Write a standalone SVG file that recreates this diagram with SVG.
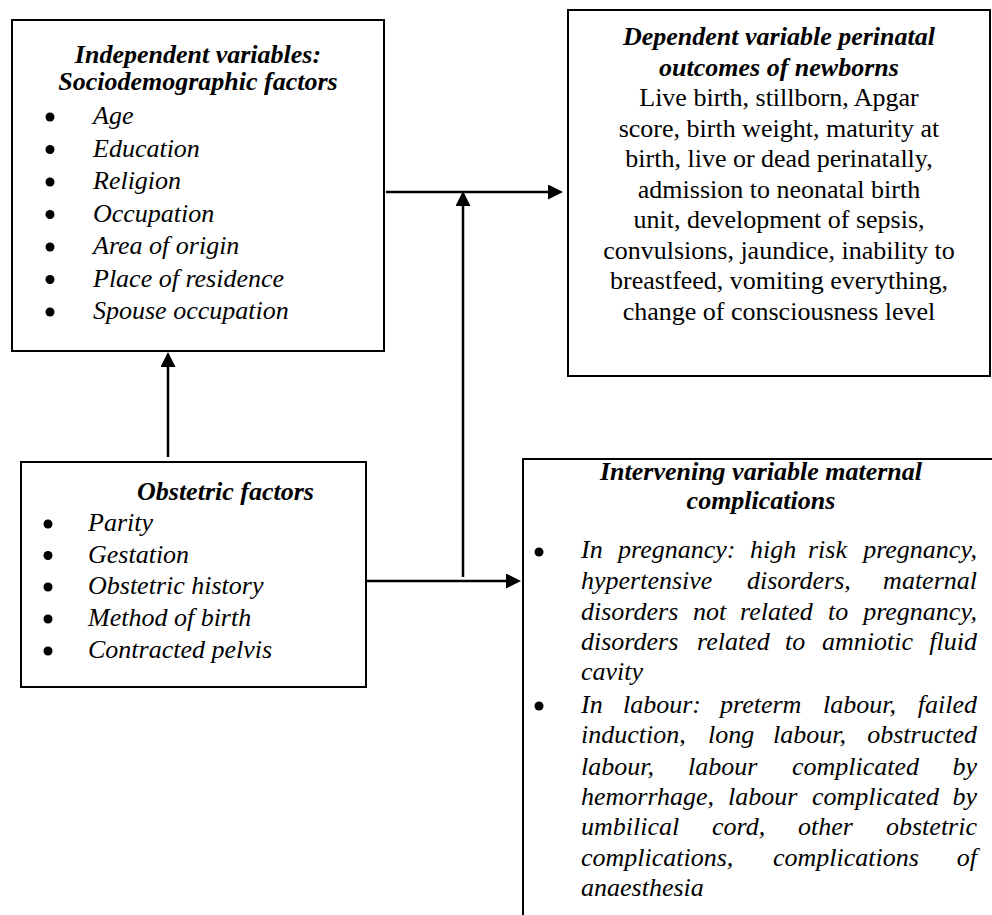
<svg xmlns="http://www.w3.org/2000/svg" width="992" height="915" viewBox="0 0 992 915" font-family="Liberation Serif" font-size="26">
<style>
  .box { fill: #ffffff; stroke: #000000; stroke-width: 2; }
  .conn { stroke: #000000; stroke-width: 2.5; fill: none; }
  svg g text, svg g tspan { font-family: "Liberation Serif", serif !important; font-size: 26px !important; fill: #000000; }
  .title { font-weight: bold; font-style: italic; }
  .it { font-style: italic; }
  .mid { text-anchor: middle; }
  .end { text-anchor: end; }
  .dot { fill: #000000; }
</style>
<defs>
  <marker id="arrow" markerUnits="userSpaceOnUse" markerWidth="16" markerHeight="16" refX="10" refY="7.5" orient="auto">
    <path d="M0,0 L15,7.5 L0,15 Z" fill="#000000"/>
  </marker>
</defs>
<rect x="0" y="0" width="992" height="915" fill="#ffffff"/>

<g id="connectors">
  <line class="conn" x1="386" y1="192" x2="558" y2="192" marker-end="url(#arrow)"/>
  <line class="conn" x1="463" y1="577" x2="463" y2="196" marker-end="url(#arrow)"/>
  <line class="conn" x1="366" y1="581" x2="516" y2="581" marker-end="url(#arrow)"/>
  <line class="conn" x1="168" y1="457" x2="168" y2="357" marker-end="url(#arrow)"/>
</g>

<g id="independent">
  <rect class="box" x="12" y="20" width="372" height="331"/>
  <text class="title mid" x="198" y="63" style="font-family:'Liberation Serif'">Independent variables:</text>
  <text class="title mid" x="198" y="90" style="font-family:'Liberation Serif'">Sociodemographic factors</text>
  <circle class="dot" cx="50" cy="117" r="4.5"/>
  <circle class="dot" cx="50" cy="149.5" r="4.5"/>
  <circle class="dot" cx="50" cy="182" r="4.5"/>
  <circle class="dot" cx="50" cy="214.5" r="4.5"/>
  <circle class="dot" cx="50" cy="247" r="4.5"/>
  <circle class="dot" cx="50" cy="279.5" r="4.5"/>
  <circle class="dot" cx="50" cy="312" r="4.5"/>
  <text class="it" x="93" y="124">Age</text>
  <text class="it" x="93" y="156.5">Education</text>
  <text class="it" x="93" y="189">Religion</text>
  <text class="it" x="93" y="221.5">Occupation</text>
  <text class="it" x="93" y="254">Area of origin</text>
  <text class="it" x="93" y="286.5">Place of residence</text>
  <text class="it" x="93" y="319">Spouse occupation</text>
</g>

<g id="dependent">
  <rect class="box" x="568" y="10" width="422" height="366"/>
  <text class="title mid" x="779" y="45">Dependent variable perinatal</text>
  <text class="title mid" x="779" y="75.5">outcomes of newborns</text>
  <text class="mid" x="779" y="106">Live birth, stillborn, Apgar</text>
  <text class="mid" x="779" y="136.5">score, birth weight, maturity at</text>
  <text class="mid" x="779" y="167">birth, live or dead perinatally,</text>
  <text class="mid" x="779" y="197.5">admission to neonatal birth</text>
  <text class="mid" x="779" y="228">unit, development of sepsis,</text>
  <text class="mid" x="779" y="258.5">convulsions, jaundice, inability to</text>
  <text class="mid" x="779" y="289">breastfeed, vomiting everything,</text>
  <text class="mid" x="779" y="319.5">change of consciousness level</text>
</g>

<g id="obstetric">
  <rect class="box" x="21" y="462" width="345" height="225"/>
  <text class="title" x="137" y="500">Obstetric factors</text>
  <circle class="dot" cx="48" cy="524" r="4.5"/>
  <circle class="dot" cx="48" cy="555.5" r="4.5"/>
  <circle class="dot" cx="48" cy="587" r="4.5"/>
  <circle class="dot" cx="48" cy="619" r="4.5"/>
  <circle class="dot" cx="48" cy="651" r="4.5"/>
  <text class="it" x="88" y="531">Parity</text>
  <text class="it" x="88" y="562.5">Gestation</text>
  <text class="it" x="88" y="594">Obstetric history</text>
  <text class="it" x="88" y="626">Method of birth</text>
  <text class="it" x="88" y="658">Contracted pelvis</text>
</g>

<g id="intervening">
  <path class="box" d="M523,915 V459 H992" fill="none"/>
  <text class="title mid" x="761" y="480">Intervening variable maternal</text>
  <text class="title mid" x="761" y="509">complications</text>
  <circle class="dot" cx="539" cy="552" r="4.5"/>
  <circle class="dot" cx="539" cy="706" r="4.5"/>

  <text class="it" y="558"><tspan x="581">In</tspan><tspan x="618">pregnancy:</tspan><tspan x="750">high</tspan><tspan x="808">risk</tspan></text>
  <text class="it end" x="977" y="558">pregnancy,</text>

  <text class="it" y="588.5"><tspan x="581">hypertensive</tspan><tspan x="747">disorders,</tspan></text>
  <text class="it end" x="977" y="588.5">maternal</text>

  <text class="it" y="619.5"><tspan x="581">disorders</tspan><tspan x="693">not</tspan><tspan x="740">related</tspan><tspan x="828">to</tspan></text>
  <text class="it end" x="977" y="619.5">pregnancy,</text>

  <text class="it" y="650"><tspan x="581">disorders</tspan><tspan x="697">related</tspan><tspan x="785">to</tspan><tspan x="822">amniotic</tspan></text>
  <text class="it end" x="977" y="650">fluid</text>

  <text class="it" x="581" y="680">cavity</text>

  <text class="it" y="713"><tspan x="581">In</tspan><tspan x="623">labour:</tspan><tspan x="720">preterm</tspan><tspan x="823">labour,</tspan></text>
  <text class="it end" x="977" y="713">failed</text>

  <text class="it" y="743"><tspan x="581">induction,</tspan><tspan x="708">long</tspan><tspan x="773">labour,</tspan></text>
  <text class="it end" x="977" y="743">obstructed</text>

  <text class="it" y="774.5"><tspan x="581">labour,</tspan><tspan x="688">labour</tspan><tspan x="792">complicated</tspan></text>
  <text class="it end" x="977" y="774.5">by</text>

  <text class="it" y="805"><tspan x="581">hemorrhage,</tspan><tspan x="728">labour</tspan><tspan x="812">complicated</tspan></text>
  <text class="it end" x="977" y="805">by</text>

  <text class="it" y="835"><tspan x="581">umbilical</tspan><tspan x="712">cord,</tspan><tspan x="798">other</tspan></text>
  <text class="it end" x="977" y="835">obstetric</text>

  <text class="it" y="865.5"><tspan x="581">complications,</tspan><tspan x="773">complications</tspan></text>
  <text class="it end" x="977" y="865.5">of</text>

  <text class="it" x="581" y="896">anaesthesia</text>
</g>
</svg>
